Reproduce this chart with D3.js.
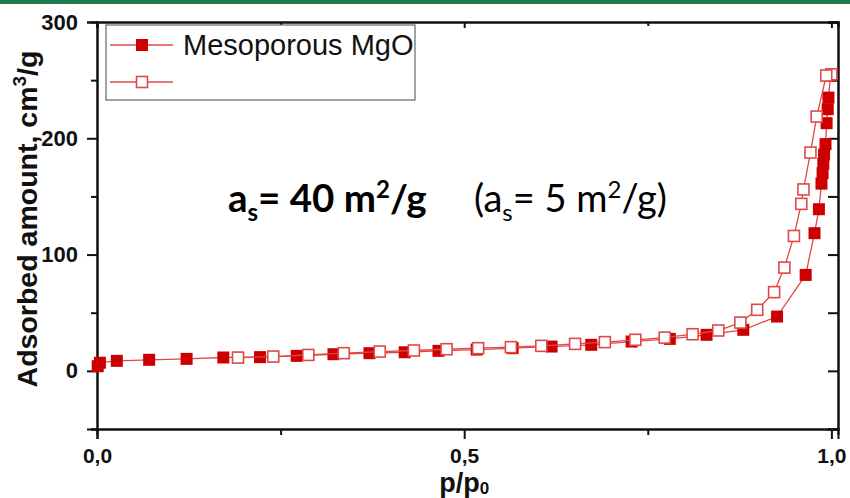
<!DOCTYPE html>
<html>
<head>
<meta charset="utf-8">
<script src="https://cdn.jsdelivr.net/npm/d3@7"></script>
<style>
  body { margin: 0; background: #fff; }
  svg { display: block; }
</style>
</head>
<body>
<div id="chart"></div>
<script>
var width = 850;
var height = 498;
var margin = {"top": 22, "right": 12, "bottom": 69, "left": 97};

// adsorption branch (filled squares)
var adsP = [0.001, 0.004, 0.027, 0.071, 0.122, 0.172, 0.222, 0.272, 0.322, 0.371, 0.419, 0.465, 0.517, 0.566, 0.619, 0.673, 0.728, 0.780, 0.830, 0.880, 0.926, 0.965, 0.977, 0.983, 0.9865, 0.988, 0.989, 0.990, 0.992, 0.9935, 0.995, 0.996, 0.999];
var adsV = [4, 7, 8.6, 9.5, 10.3, 11.5, 11.8, 12.9, 14.3, 15.2, 16, 17.2, 18.3, 19.5, 20.9, 22.4, 25.2, 27.5, 31, 35.3, 46.7, 82.5, 118.4, 139, 161, 170, 178, 186, 195, 213, 225, 235, 254];
// desorption branch (open squares)
var desP = [1.0, 0.993, 0.980, 0.9715, 0.962, 0.959, 0.949, 0.936, 0.922, 0.899, 0.876, 0.846, 0.811, 0.773, 0.733, 0.6915, 0.651, 0.605, 0.5636, 0.519, 0.476, 0.4315, 0.385, 0.336, 0.2877, 0.240, 0.192];
var desV = [255, 254, 218.7, 187.7, 156, 143.6, 116, 88.8, 67.7, 52.5, 41.5, 34.7, 31.5, 28.6, 26.7, 24.7, 23.2, 21.5, 20.4, 19.5, 18.6, 17.5, 16.6, 15.2, 13.7, 12.3, 11.4];

var xTicks = [0, 0.5, 1.0];
var xMinor = [0.25, 0.75];
var yTicks = [0, 100, 200, 300];
var yMinor = [-50, 50, 150, 250];
var seriesName = "Mesoporous MgO";

var red = "#cc0000";
var lightRed = "#e04848";

var svg = d3.select("#chart").append("svg")
    .attr("width", width)
    .attr("height", height);

// green band at the top
svg.append("rect")
    .attr("x", 0).attr("y", 0)
    .attr("width", width).attr("height", 4)
    .attr("fill", "#1b7a50");

var xScale = d3.scaleLinear()
    .domain([0, 1.009])
    .range([margin.left, width - margin.right]);
var yScale = d3.scaleLinear()
    .domain([-50, 300])
    .range([height - margin.bottom, margin.top]);

var fmtX = function(d){ return d3.format(".1f")(d).replace(".", ","); };

// axes
var gx = svg.append("g")
    .attr("transform", "translate(0," + (height - margin.bottom) + ")")
    .call(d3.axisBottom(xScale).tickValues(xTicks).tickFormat(fmtX).tickSize(10).tickPadding(9));
svg.append("g")
    .attr("transform", "translate(0," + (height - margin.bottom) + ")")
    .call(d3.axisBottom(xScale).tickValues(xMinor).tickFormat("").tickSize(6));
var gy = svg.append("g")
    .attr("transform", "translate(" + margin.left + ",0)")
    .call(d3.axisLeft(yScale).tickValues(yTicks).tickSize(10).tickPadding(9));
svg.append("g")
    .attr("transform", "translate(" + margin.left + ",0)")
    .call(d3.axisLeft(yScale).tickValues(yMinor).tickFormat("").tickSize(6));
// top and right axes, ticks inward
svg.append("g")
    .attr("transform", "translate(0," + margin.top + ")")
    .call(d3.axisBottom(xScale).tickValues(xTicks).tickFormat("").tickSize(6));
svg.append("g")
    .attr("transform", "translate(0," + margin.top + ")")
    .call(d3.axisBottom(xScale).tickValues(xMinor).tickFormat("").tickSize(4));
svg.append("g")
    .attr("transform", "translate(" + (width - margin.right) + ",0)")
    .call(d3.axisLeft(yScale).tickValues(yTicks).tickFormat("").tickSize(10));
svg.append("g")
    .attr("transform", "translate(" + (width - margin.right) + ",0)")
    .call(d3.axisLeft(yScale).tickValues(yMinor).tickFormat("").tickSize(10));

svg.selectAll(".domain").attr("stroke", "#111").attr("stroke-width", 2).attr("d", function(){
    return d3.select(this).attr("d").replace(/V-?\d+(\.\d+)?V/, "V").replace(/H-?\d+(\.\d+)?H/, "H");
});
svg.selectAll(".tick line").attr("stroke", "#111").attr("stroke-width", 2);
svg.selectAll(".tick text")
    .attr("font-family", "Liberation Sans, Arial, sans-serif")
    .attr("font-weight", "bold")
    .attr("font-size", 22)
    .attr("fill", "#111");
gx.selectAll(".tick text").attr("font-size", 21);

// axis titles
var xl = svg.append("text")
    .attr("x", xScale(0.5))
    .attr("y", 492)
    .attr("text-anchor", "middle")
    .attr("font-family", "Liberation Sans, Arial, sans-serif")
    .attr("font-weight", "bold")
    .attr("font-size", 27)
    .attr("fill", "#111");
xl.append("tspan").text("p/p");
xl.append("tspan").attr("font-size", 17).attr("dy", 2).text("0");

var yl = svg.append("text")
    .attr("transform", "translate(37,219) rotate(-90)")
    .attr("text-anchor", "middle")
    .attr("font-family", "Liberation Sans, Arial, sans-serif")
    .attr("font-weight", "bold")
    .attr("font-size", 28.5)
    .attr("fill", "#111");
yl.append("tspan").text("Adsorbed amount, cm");
yl.append("tspan").attr("font-size", 19).attr("dy", -11).text("3");
yl.append("tspan").attr("dy", 11).text("/g");

// lines
var line = d3.line()
    .x(function(d){ return xScale(d[0]); })
    .y(function(d){ return yScale(d[1]); });
var ads = adsP.map(function(p, i){ return [p, adsV[i]]; });
var des = desP.map(function(p, i){ return [p, desV[i]]; });

svg.append("path").datum(ads)
    .attr("d", line)
    .attr("fill", "none")
    .attr("stroke", lightRed)
    .attr("stroke-width", 1.3);
svg.selectAll("rect.ads")
    .data(ads)
    .enter().append("rect")
    .attr("class", "ads")
    .attr("x", function(d){ return xScale(d[0]) - 6; })
    .attr("y", function(d){ return yScale(d[1]) - 6; })
    .attr("width", 12).attr("height", 12)
    .attr("fill", red);

svg.append("path").datum(des)
    .attr("d", line)
    .attr("fill", "none")
    .attr("stroke", lightRed)
    .attr("stroke-width", 1.3);
svg.selectAll("rect.des")
    .data(des)
    .enter().append("rect")
    .attr("class", "des")
    .attr("x", function(d){ return xScale(d[0]) - 5.5; })
    .attr("y", function(d){ return yScale(d[1]) - 5.5; })
    .attr("width", 11).attr("height", 11)
    .attr("fill", "#fff")
    .attr("stroke", lightRed)
    .attr("stroke-width", 1.6);

// legend
var lg = svg.append("g");
lg.append("rect")
    .attr("x", 106).attr("y", 25)
    .attr("width", 309).attr("height", 75)
    .attr("fill", "#fff")
    .attr("stroke", "#666")
    .attr("stroke-width", 1.2);
[45, 82].forEach(function(ly, i){
    lg.append("line")
        .attr("x1", 110).attr("x2", 173)
        .attr("y1", ly).attr("y2", ly)
        .attr("stroke", lightRed).attr("stroke-width", 1.3);
    if (i === 0) {
        lg.append("rect").attr("x", 136).attr("y", ly - 6)
            .attr("width", 12).attr("height", 12).attr("fill", red);
    } else {
        lg.append("rect").attr("x", 136.5).attr("y", ly - 5.5)
            .attr("width", 11).attr("height", 11)
            .attr("fill", "#fff").attr("stroke", lightRed).attr("stroke-width", 1.6);
    }
});
lg.append("text")
    .attr("x", 183).attr("y", 55)
    .attr("font-family", "Liberation Sans, Arial, sans-serif")
    .attr("font-size", 29)
    .attr("fill", "#111")
    .text(seriesName);

// surface area annotation
var ann = svg.append("text")
    .attr("x", 228).attr("y", 212)
    .attr("font-family", "Lato, Open Sans, sans-serif")
    .attr("font-size", 38.5)
    .attr("fill", "#000");
ann.append("tspan").attr("font-weight", "bold").text("a");
ann.append("tspan").attr("font-weight", "bold").attr("font-size", 24).attr("dy", 9).text("s");
ann.append("tspan").attr("font-weight", "bold").attr("dy", -9).text("= 40 m");
ann.append("tspan").attr("font-weight", "bold").attr("font-size", 24).attr("dy", -14).text("2");
ann.append("tspan").attr("font-weight", "bold").attr("dy", 14).text("/g");

var ann2 = svg.append("text")
    .attr("x", 474).attr("y", 212)
    .attr("font-family", "Lato, Open Sans, sans-serif")
    .attr("font-size", 38)
    .attr("fill", "#000");
ann2.append("tspan").text("(a");
ann2.append("tspan").attr("font-size", 24).attr("dy", 9).text("s");
ann2.append("tspan").attr("dy", -9).text("= 5 m");
ann2.append("tspan").attr("font-size", 24).attr("dy", -14).text("2");
ann2.append("tspan").attr("dy", 14).text("/g)");
</script>
</body>
</html>
